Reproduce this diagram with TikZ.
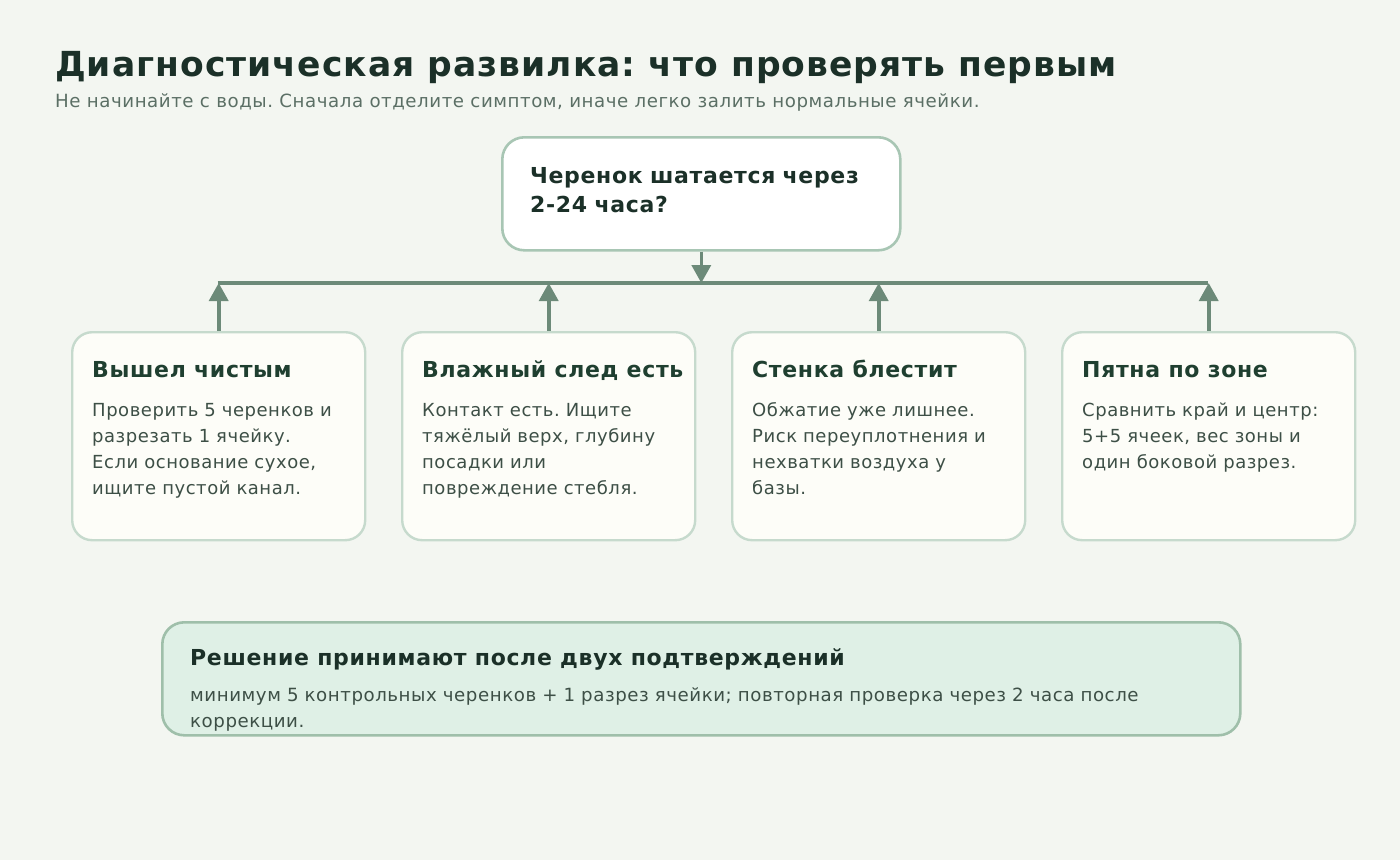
\documentclass[tikz,border=0pt]{standalone}
\usepackage{fontspec}
\setmainfont{DejaVu Sans}[LetterSpace=3]
\frenchspacing
\usetikzlibrary{arrows.meta}
\definecolor{bg}{HTML}{F3F6F1}
\definecolor{titlec}{HTML}{1B3028}
\definecolor{subc}{HTML}{5B6F65}
\definecolor{qborder}{HTML}{A8C6B4}
\definecolor{connc}{HTML}{6C8A79}
\definecolor{optfill}{HTML}{FDFDF8}
\definecolor{optborder}{HTML}{C6DACD}
\definecolor{opthead}{HTML}{1F3F30}
\definecolor{bodyc}{HTML}{3D4F46}
\definecolor{botfill}{HTML}{DFF0E6}
\definecolor{botborder}{HTML}{9FBFAA}
\begin{document}
\begin{tikzpicture}[x=1pt,y=-1pt,
  qbox/.style={draw=qborder,fill=white,line width=2.6pt,rounded corners=22pt,minimum width=398pt,minimum height=113pt,anchor=north west,inner sep=0pt},
  optbox/.style={draw=optborder,fill=optfill,line width=2.4pt,rounded corners=20pt,minimum width=293pt,minimum height=208pt,anchor=north west,inner sep=0pt},
  botbox/.style={draw=botborder,fill=botfill,line width=2.6pt,rounded corners=22pt,minimum width=1078pt,minimum height=113pt,anchor=north west,inner sep=0pt},
  headtxt/.style={anchor=base west,inner sep=0pt,font=\fontsize{22}{26}\selectfont\bfseries,text=opthead},
  bodytxt/.style={anchor=base west,inner sep=0pt,font=\fontsize{18}{26}\selectfont,text=bodyc,text width=300pt,align=left},
  conn/.style={draw=connc,line width=3.6pt},
  arr/.style={conn,-{Triangle[length=18pt,width=19pt]}}
]
\fill[bg] (0,0) rectangle (1400,860);
\useasboundingbox (0,0) rectangle (1400,860);

\node[anchor=base west,inner sep=0pt,font=\fontsize{34.5}{40}\selectfont\bfseries,text=titlec] (title) at (55,76) {Диагностическая развилка: что проверять первым};
\node[anchor=base west,inner sep=0pt,font=\fontsize{18.2}{22}\selectfont,text=subc] (sub) at (55,107) {Не начинайте с воды. Сначала отделите симптом, иначе легко залить нормальные ячейки.};

\node[qbox] (q) at (501,136) {};
\node[anchor=base west,inner sep=0pt,font=\fontsize{22}{29}\selectfont\bfseries,text=titlec,text width=360pt,align=left] (qt) at (530,183) {Черенок шатается через\\2-24 часа?};

\node[optbox] (o1) at (71,331) {};
\node[optbox] (o2) at (401,331) {};
\node[optbox] (o3) at (731,331) {};
\node[optbox] (o4) at (1061,331) {};

\coordinate (busL) at (217.5,283);
\coordinate (busR) at (1207.5,283);
\draw[conn] (busL) -- (busR);
\draw[arr] (q.south) -- (q.south |- busL);
\foreach \o in {o1,o2,o3,o4} {
  \draw[arr] (\o.north) -- (\o.north |- busL);
}

\node[headtxt] (h1) at (92,377) {Вышел чистым};
\node[bodytxt] (b1) at (92,416) {Проверить 5 черенков и\\разрезать 1 ячейку.\\Если основание сухое,\\ищите пустой канал.};
\node[headtxt] (h2) at (422,377) {Влажный след есть};
\node[bodytxt] (b2) at (422,416) {Контакт есть. Ищите\\тяжёлый верх, глубину\\посадки или\\повреждение стебля.};
\node[headtxt] (h3) at (752,377) {Стенка блестит};
\node[bodytxt] (b3) at (752,416) {Обжатие уже лишнее.\\Риск переуплотнения и\\нехватки воздуха у\\базы.};
\node[headtxt] (h4) at (1082,377) {Пятна по зоне};
\node[bodytxt] (b4) at (1082,416) {Сравнить край и центр:\\5+5 ячеек, вес зоны и\\один боковой разрез.};

\node[botbox] (bot) at (161,621) {};
\node[anchor=base west,inner sep=0pt,font=\fontsize{22}{26}\selectfont\bfseries,text=titlec] (bh) at (190,665) {Решение принимают после двух подтверждений};
\node[bodytxt,font=\fontsize{18.2}{26}\selectfont,text width=1000pt] (bb) at (190,701) {минимум 5 контрольных черенков + 1 разрез ячейки; повторная проверка через 2 часа после\\коррекции.};
\end{tikzpicture}
\end{document}
